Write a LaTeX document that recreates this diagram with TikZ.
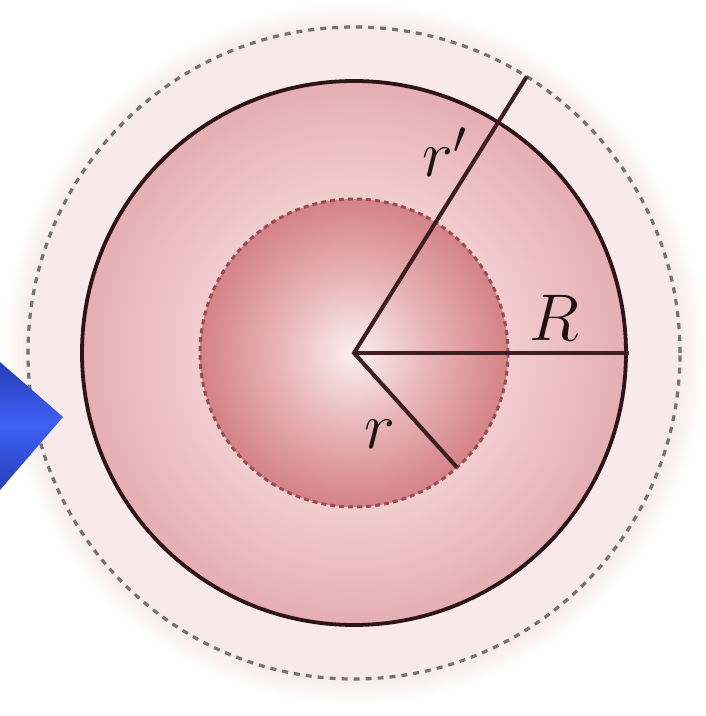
\documentclass[tikz,border=0pt]{standalone}
\usepackage{fix-cm}
\usetikzlibrary{shadings,calc}
\definecolor{haze}{RGB}{248,234,234}
\definecolor{ringin}{RGB}{242,206,207}
\definecolor{ringout}{RGB}{229,174,178}
\definecolor{sphc}{RGB}{251,240,240}
\definecolor{sphm}{RGB}{233,182,184}
\definecolor{sphe}{RGB}{212,130,136}
\definecolor{sphline}{RGB}{150,78,84}
\definecolor{dashgray}{RGB}{115,115,115}
\definecolor{rimcol}{RGB}{45,20,22}
\definecolor{radcol}{RGB}{62,30,32}
\definecolor{labcol}{RGB}{30,18,18}
\definecolor{blueA}{RGB}{40,62,185}
\definecolor{blueB}{RGB}{62,96,245}
\pgfdeclareradialshading{sphereshade}{\pgfpoint{0bp}{0bp}}{color(0bp)=(sphc); color(12bp)=(sphm); color(25bp)=(sphe); color(50bp)=(sphe)}
\pgfdeclareradialshading{ringshade}{\pgfpoint{0bp}{0bp}}{color(0bp)=(ringin); color(14bp)=(ringin); color(25bp)=(ringout); color(50bp)=(ringout)}
\pgfdeclareradialshading{glowshade}{\pgfpoint{0bp}{0bp}}{color(0bp)=(haze); color(23bp)=(haze); color(25bp)=(white); color(50bp)=(white)}
\tikzset{
  rimline/.style={draw=rimcol, line width=3.8pt},
  radline/.style={draw=radcol, line width=4pt},
  outerdash/.style={draw=dashgray, line width=3.2pt, dash pattern=on 6pt off 6pt},
  innerdash/.style={draw=sphline, line width=3pt, dash pattern=on 5pt off 4pt},
  lab/.style={font=\fontsize{66}{66}\selectfont, text=labcol, inner sep=0pt, anchor=base}
}
\begin{document}
\begin{tikzpicture}[x=1pt,y=1pt]
\useasboundingbox (0,0) rectangle (706,716);
\fill[white] (0,0) rectangle (706,716);
\coordinate (O) at (354,363);
% faint glow and outer haze
\shade[shading=glowshade] (O) circle (352);
\fill[haze] (O) circle (326);
\draw[outerdash] (O) circle (326);
% solid sphere ring
\shade[shading=ringshade] (O) circle (272);
\draw[rimline] (O) circle (272);
% inner sphere
\shade[shading=sphereshade] (O) circle (154);
\draw[innerdash] (O) circle (154);
% radii
\coordinate (Ap) at ($(O)+(58:326)$);
\coordinate (AR) at ($(O)+(0:275)$);
\coordinate (Ar) at ($(O)+(-48:154)$);
\draw[radline, line join=miter] (Ap) -- (O) -- (Ar);
\draw[radline] (O) -- (AR);
% labels
\node[lab] (lp) at (445,539) {$r'$};
\node[lab] (lR) at (554,375) {$R$};
\node[lab] (lr) at (380,267) {$r$};
% blue marker
\shade[top color=blueA, bottom color=blueA, middle color=blueB] (0,354) -- (63,299) -- (0,226) -- cycle;
\end{tikzpicture}
\end{document}
